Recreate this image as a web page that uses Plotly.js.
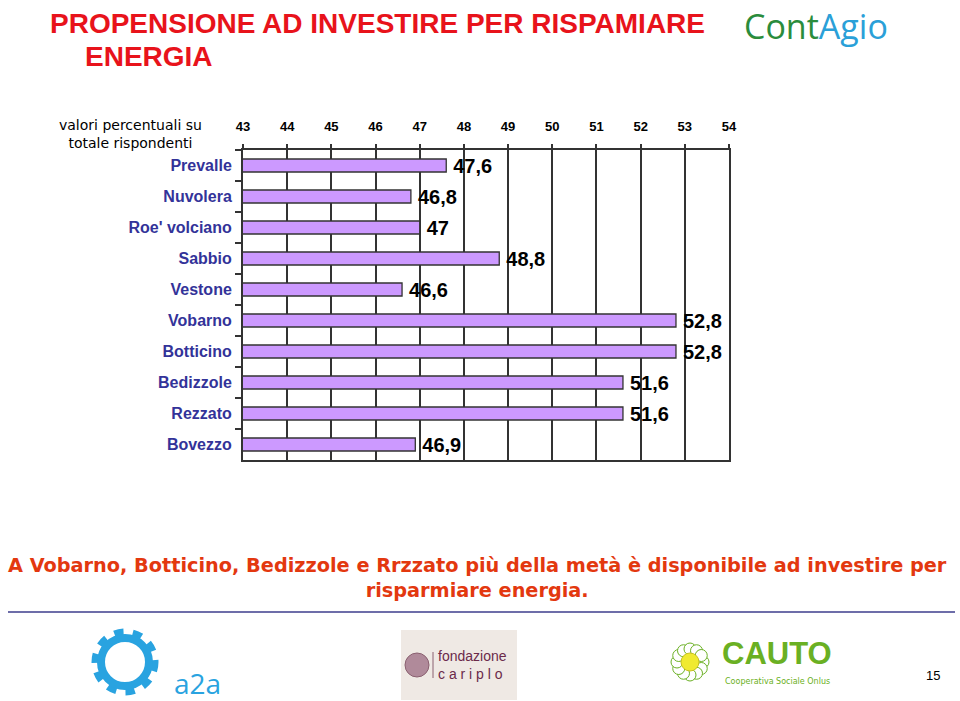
<!DOCTYPE html>
<html>
<head>
<meta charset="utf-8">
<script src="https://cdn.plot.ly/plotly-3.0.1.min.js"></script>
<style>html,body{margin:0;padding:0;background:#fff;}#chart{width:960px;height:701px;}</style>
</head>
<body>
<div id="chart"></div>
<script>
// ---- data ----
const categories = ["Prevalle", "Nuvolera", "Roe' volciano", "Sabbio", "Vestone", "Vobarno", "Botticino", "Bedizzole", "Rezzato", "Bovezzo"];
const values = [47.6, 46.8, 47, 48.8, 46.6, 52.8, 52.8, 51.6, 51.6, 46.9];
const xTickValues = [43, 44, 45, 46, 47, 48, 49, 50, 51, 52, 53, 54];
const titleLine1 = "PROPENSIONE AD INVESTIRE PER RISPAMIARE";
const titleLine2 = "ENERGIA";
const noteText = "valori percentuali su<br>totale rispondenti";
const footText = "A Vobarno, Botticino, Bedizzole e Rrzzato più della metà è disponibile ad investire per<br>risparmiare energia.";

// ---- pixel helpers (plot area: x 243..729, y 150..460) ----
const L = 243, R = 729, T = 150, B = 460;
const px = x => (x - L) / (R - L);
const py = y => (B - y) / (B - T);

const labels = values.map(v => '\u2009' + String(v).replace('.', ','));

const trace = {
  type: 'bar',
  orientation: 'h',
  x: values,
  y: categories,
  marker: {color: '#CC99FF', line: {color: '#333333', width: 1.3}},
  text: labels,
  textposition: 'outside',
  constraintext: 'none',
  cliponaxis: false,
  textfont: {family: 'Arial, "Liberation Sans", sans-serif', size: 20, color: '#000', weight: 'bold'},
  hoverinfo: 'none'
};

const petalShapes = [];
// CAUTO flower petals (decoration)
for (let i = 0; i < 12; i++) {
  const a = i * Math.PI / 6;
  const cx = 690 + Math.cos(a) * 13, cy = 662 + Math.sin(a) * 13;
  petalShapes.push({type: 'circle', xref: 'paper', yref: 'paper',
    x0: px(cx - 6), x1: px(cx + 6), y0: py(cy + 6), y1: py(cy - 6),
    fillcolor: '#ffffff', line: {color: '#6ab023', width: 1}});
}

const shapes = [
  // separator line
  {type: 'line', xref: 'paper', yref: 'paper', x0: px(8), x1: px(955), y0: py(612), y1: py(612), line: {color: '#3c3c8c', width: 1.5}},
  // a2a ring
  {type: 'circle', xref: 'paper', yref: 'paper', x0: px(96), x1: px(154), y0: py(691), y1: py(633), line: {color: '#29a3e0', width: 9, dash: 'dot'}, fillcolor: 'rgba(0,0,0,0)'},
  {type: 'circle', xref: 'paper', yref: 'paper', x0: px(101), x1: px(149), y0: py(686), y1: py(638), line: {color: '#29a3e0', width: 8}, fillcolor: 'rgba(0,0,0,0)'},
  // fondazione cariplo box
  {type: 'rect', xref: 'paper', yref: 'paper', x0: px(401), x1: px(517), y0: py(700), y1: py(630), fillcolor: '#efe9e4', line: {width: 0}},
  {type: 'circle', xref: 'paper', yref: 'paper', x0: px(405), x1: px(429), y0: py(677), y1: py(653), fillcolor: '#b08a9a', line: {color: '#8a6070', width: 1}},
  {type: 'line', xref: 'paper', yref: 'paper', x0: px(433), x1: px(433), y0: py(678), y1: py(652), line: {color: '#8a6070', width: 1}},
  ...petalShapes,
  {type: 'circle', xref: 'paper', yref: 'paper', x0: px(681), x1: px(699), y0: py(671), y1: py(653), fillcolor: '#f0ea30', line: {color: '#c8c020', width: 1}}
];

const annotations = [
  {text: titleLine2, xref: 'paper', yref: 'paper', x: px(83), y: py(56), xanchor: 'left', yanchor: 'middle', showarrow: false,
   font: {family: 'Arial, "Liberation Sans", sans-serif', size: 28, color: '#E8131B', weight: 'bold'}},
  {text: noteText, xref: 'paper', yref: 'paper', x: px(130), y: py(134), xanchor: 'center', yanchor: 'middle', showarrow: false, align: 'center',
   font: {family: '"DejaVu Sans", Verdana, sans-serif', size: 14, color: '#000'}},
  {text: footText, xref: 'paper', yref: 'paper', x: px(477), y: py(578), xanchor: 'center', yanchor: 'middle', showarrow: false, align: 'center',
   font: {family: '"DejaVu Sans", Verdana, sans-serif', size: 19.3, color: '#E3380F', weight: 'bold'}},
  {text: "<span style='color:#2a8c3c'>Cont</span><span style='color:#2aa0d8'>Agio</span>", xref: 'paper', yref: 'paper', x: px(816), y: py(26), xanchor: 'center', yanchor: 'middle', showarrow: false,
   font: {family: '"Open Sans", sans-serif', size: 34, color: '#2a8c3c'}},
  {text: "a2a", xref: 'paper', yref: 'paper', x: px(197), y: py(683), xanchor: 'center', yanchor: 'middle', showarrow: false,
   font: {family: '"Open Sans", sans-serif', size: 28, color: '#29a3e0'}},
  {text: "fondazione<br>c a r i p l o", xref: 'paper', yref: 'paper', x: px(436), y: py(665), xanchor: 'left', yanchor: 'middle', showarrow: false, align: 'left',
   font: {family: '"Liberation Sans", Arial, sans-serif', size: 14, color: '#6b2a4a'}},
  {text: "CAUTO", xref: 'paper', yref: 'paper', x: px(777), y: py(653), xanchor: 'center', yanchor: 'middle', showarrow: false,
   font: {family: 'Arial, "Liberation Sans", sans-serif', size: 31, color: '#6ab023', weight: 'bold'}},
  {text: "Cooperativa Sociale Onlus", xref: 'paper', yref: 'paper', x: px(777), y: py(681), xanchor: 'center', yanchor: 'middle', showarrow: false,
   font: {family: '"DejaVu Sans", sans-serif', size: 8, color: '#6ab023'}},
  {text: "15", xref: 'paper', yref: 'paper', x: px(933), y: py(675), xanchor: 'center', yanchor: 'middle', showarrow: false,
   font: {family: '"Liberation Sans", Arial, sans-serif', size: 13, color: '#000'}}
];

const layout = {
  width: 960, height: 701,
  margin: {l: L, r: 960 - R, t: T, b: 701 - B, pad: 0},
  paper_bgcolor: '#ffffff', plot_bgcolor: '#ffffff',
  showlegend: false,
  bargap: 0.58,
  title: {text: titleLine1, x: 50 / 960, xanchor: 'left', xref: 'container', y: 1 - 23 / 701, yref: 'container', yanchor: 'middle',
    font: {family: 'Arial, "Liberation Sans", sans-serif', size: 28, color: '#E8131B', weight: 'bold'}},
  xaxis: {
    range: [43, 54], side: 'top', tickvals: xTickValues, ticktext: xTickValues.map(String),
    showgrid: true, gridcolor: '#333333', gridwidth: 2,
    showline: true, linecolor: '#333333', linewidth: 2, mirror: true,
    ticks: 'outside', ticklen: 4, tickcolor: '#333333', tickwidth: 2, zeroline: false,
    ticklabelstandoff: 8,
    tickfont: {family: 'Arial, "Liberation Sans", sans-serif', size: 13, color: '#000', weight: 'bold'},
    fixedrange: true
  },
  yaxis: {
    type: 'category', autorange: 'reversed', tickson: 'boundaries',
    ticks: 'outside', ticklen: 6, tickcolor: '#333333', tickwidth: 1.5,
    showline: true, linecolor: '#333333', linewidth: 2, mirror: true, showgrid: false,
    ticklabelstandoff: 6,
    tickfont: {family: 'Arial, "Liberation Sans", sans-serif', size: 16, color: '#333399', weight: 'bold'},
    fixedrange: true
  },
  shapes: shapes,
  annotations: annotations
};

Plotly.newPlot('chart', [trace], layout, {displayModeBar: false, staticPlot: true});
</script>
</body>
</html>
